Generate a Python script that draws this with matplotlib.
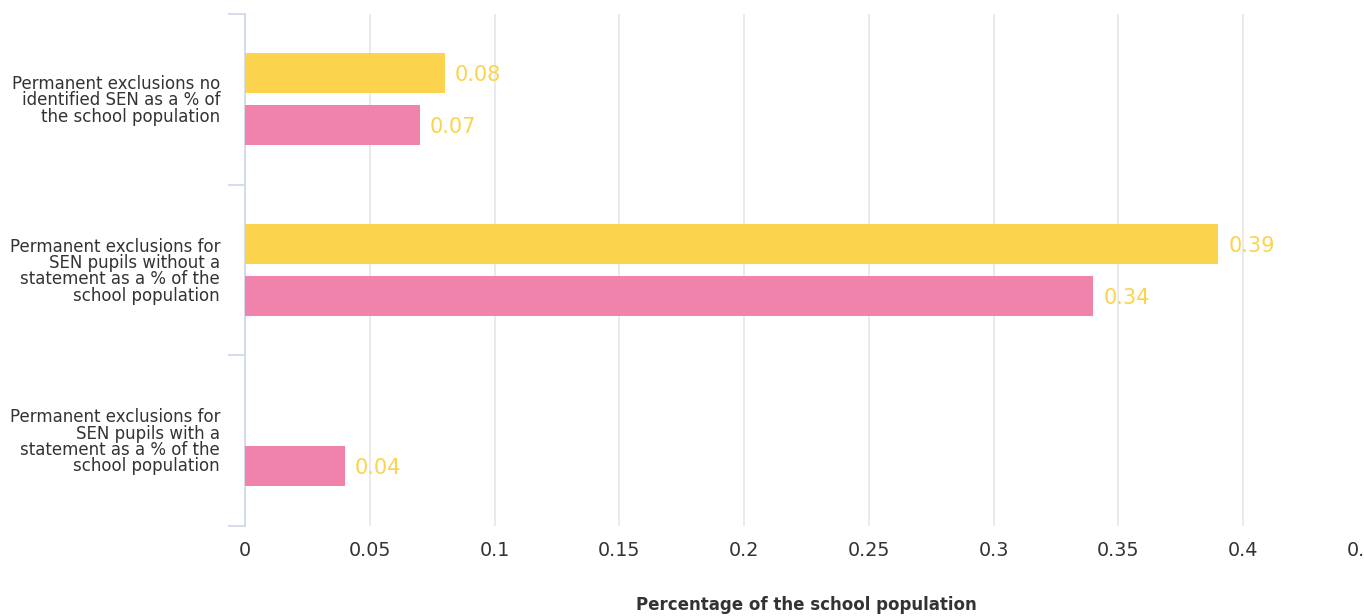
import numpy as np
import matplotlib.pyplot as plt

plt.rcParams['font.family'] = ['DejaVu Sans']

categories = ['Permanent exclusions no\nidentified SEN as a % of\nthe school population',
              'Permanent exclusions for\nSEN pupils without a\nstatement as a % of the\nschool population',
              'Permanent exclusions for\nSEN pupils with a\nstatement as a % of the\nschool population']
yellow_vals = [0.08, 0.39, None]
pink_vals = [0.07, 0.34, 0.04]
xticks = [0, 0.05, 0.1, 0.15, 0.2, 0.25, 0.3, 0.35, 0.4, 0.45]
xtick_labels = ['0', '0.05', '0.1', '0.15', '0.2', '0.25', '0.3', '0.35', '0.4', '0.45']

yellow = '#fcd34d'
pink = '#ef83ac'
text_c = '#333333'

fig = plt.figure(figsize=(13.64, 6.16), dpi=100)
ax = fig.add_axes([245/1364, 90/616, 1123/1364, 512/616])

y = np.arange(len(categories))
h = 0.234
for i, (yv, pv) in enumerate(zip(yellow_vals, pink_vals)):
    if yv is not None:
        ax.barh(i - 0.155, yv, height=h, color=yellow, zorder=3)
        ax.text(yv + 0.004, i - 0.155, f'{yv:g}', color=yellow, va='center_baseline', ha='left', fontsize=15, zorder=4)
    if pv is not None:
        ax.barh(i + 0.15, pv, height=h, color=pink, zorder=3)
        ax.text(pv + 0.004, i + 0.15, f'{pv:g}', color=yellow, va='center_baseline', ha='left', fontsize=15, zorder=4)

ax.set_xlim(0, 0.45)
ax.set_ylim(len(categories) - 0.5, -0.5)
ax.set_xticks(xticks)
ax.set_xticklabels(xtick_labels, fontsize=13.8, color=text_c)
ax.tick_params(axis='x', length=0, pad=11)
ax.grid(axis='x', color='#e6e6e6', linewidth=1.2, zorder=0)

ax.set_yticks(np.arange(len(categories) + 1) - 0.5)
ax.set_yticklabels([])
ax.tick_params(axis='y', which='major', length=12, color='#ccd6eb', width=1.2)
ax.set_yticks(y, minor=True)
ax.set_yticklabels(categories, minor=True, fontsize=12, color=text_c, linespacing=0.88)
ax.tick_params(axis='y', which='minor', length=0, pad=18)

for s in ['top', 'right', 'bottom']:
    ax.spines[s].set_visible(False)
ax.spines['left'].set_color('#ccd6eb')
ax.spines['left'].set_linewidth(1.2)

ax.set_xlabel('Percentage of the school population', fontsize=12, fontweight='bold', color=text_c, labelpad=26)

fig.savefig('out.png', dpi=100)
